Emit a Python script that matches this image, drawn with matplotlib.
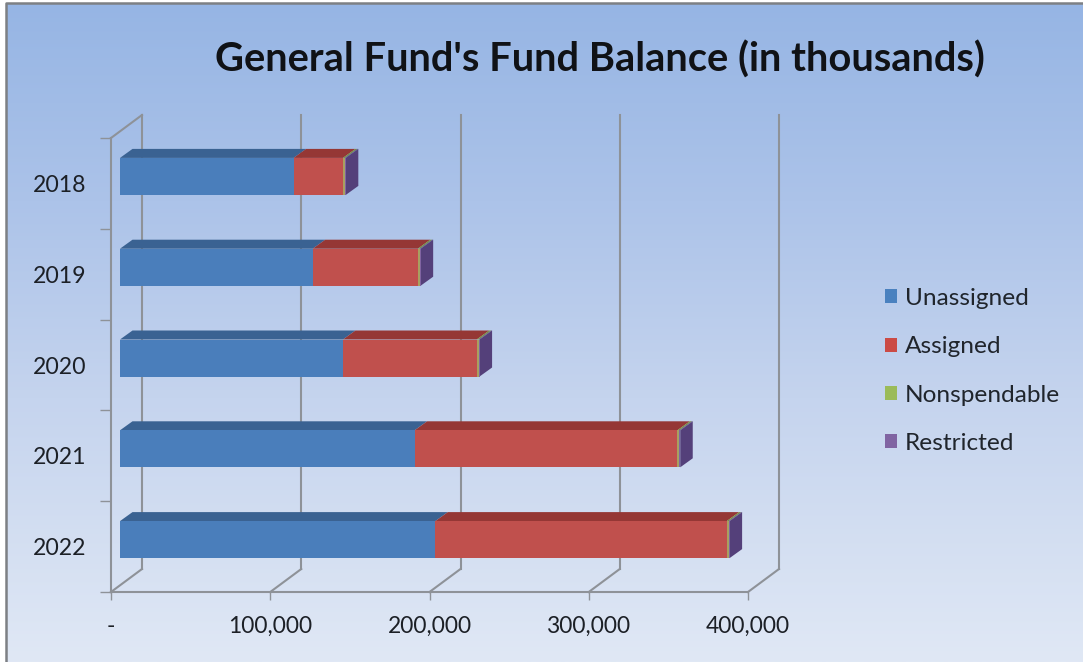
import numpy as np
import matplotlib
matplotlib.use("Agg")
import matplotlib.pyplot as plt
from matplotlib.patches import Polygon, Patch

years = ["2018", "2019", "2020", "2021", "2022"]
unassigned = [109, 121, 140, 185, 198]
assigned = [31, 66, 84, 165, 183]
nonspendable = [1.2, 1.2, 1.2, 1.2, 1.2]
restricted = [0.6, 0.6, 0.6, 0.6, 0.6]
series_names = ["Unassigned", "Assigned", "Nonspendable", "Restricted"]
x_ticks = [0, 100, 200, 300, 400]
x_labels = ["-", "100,000", "200,000", "300,000", "400,000"]

FRONT = ["#4a7ebb", "#c0504d", "#a8a060", "#8064a2"]
TOP = ["#3a6292", "#953735", "#76923c", "#5f497a"]
SIDE = ["#3a6292", "#953735", "#76923c", "#54407a"]
LEGEND = ["#4a81bf", "#cb4b45", "#9bbb59", "#8064a2"]
GRID = "#8e9298"
TEXT = "#1c2026"
plt.rcParams["font.family"] = ["Lato", "DejaVu Sans"]

W, H = 1083, 662
fig = plt.figure(figsize=(W / 100, H / 100), dpi=100, facecolor="white")

# background gradient
bg = fig.add_axes([0, 0, 1, 1], zorder=0)
bg.set_axis_off()
stops_y = np.array([0, 0.3, 0.6, 1.0])
stops_c = np.array([[150, 181, 228], [172, 195, 233], [197, 212, 238], [224, 232, 245]]) / 255
t = np.linspace(0, 1, 256)
grad = np.stack([np.interp(t, stops_y, stops_c[:, i]) for i in range(3)], axis=1)[:, None, :]
bg.imshow(grad, aspect="auto", extent=(6 / W, 1, 0, 1 - 3 / H), origin="upper")
bg.plot([6 / W, 6 / W, 1], [0, 1 - 3 / H, 1 - 3 / H], color="#7d8084", lw=1.8, clip_on=False)
bg.set_xlim(0, 1); bg.set_ylim(0, 1)

# front plane of the pseudo-3D plot
L, R, T, B = 111, 748, 138, 592
ax = fig.add_axes([L / W, 1 - B / H, (R - L) / W, (B - T) / H], zorder=1)
ax.patch.set_alpha(0)
ax.set_xlim(0, 400)
ax.set_ylim(4.5, -0.5)
kx = (R - L) / 400
ky = (B - T) / 5
wall_dx, wall_dy = 31 / kx, 23 / ky
bar_dx, bar_dy = 9 / kx, 7 / ky
dep_dx, dep_dy = 12.5 / kx, 9 / ky
half = 18.5 / ky
ypos = np.arange(len(years))

for s in ["top", "right"]:
    ax.spines[s].set_visible(False)
for s in ["left", "bottom"]:
    ax.spines[s].set_color(GRID)
    ax.spines[s].set_linewidth(1.5)

ymin, ymax = 4.5, -0.5
# back wall and its links to the front axis
for v in x_ticks:
    ax.plot([v + wall_dx, v + wall_dx], [ymin - wall_dy, ymax - wall_dy], color=GRID, lw=1.5, zorder=1, clip_on=False)
    ax.plot([v, v + wall_dx], [ymin, ymin - wall_dy], color=GRID, lw=1.5, zorder=1, clip_on=False)
ax.plot([0, wall_dx], [ymax, ymax - wall_dy], color=GRID, lw=1.5, zorder=1, clip_on=False)

# stacked bars
rows = [unassigned, assigned, nonspendable, restricted]
left = np.zeros(len(years))
for i, (vals, name) in enumerate(zip(rows, series_names)):
    vals = np.array(vals, dtype=float)
    ax.barh(ypos - bar_dy, vals, left=left + bar_dx, height=2 * half, color=FRONT[i], lw=0, zorder=3, clip_on=False)
    for y, l, v in zip(ypos - bar_dy, left + bar_dx, vals):
        ax.add_patch(Polygon([(l, y - half), (l + v, y - half), (l + v + dep_dx, y - half - dep_dy), (l + dep_dx, y - half - dep_dy)],
                             closed=True, fc=TOP[i], lw=0, zorder=2.5, clip_on=False))
    left = left + vals
for y, l in zip(ypos - bar_dy, left + bar_dx):
    ax.add_patch(Polygon([(l, y - half), (l + dep_dx, y - half - dep_dy), (l + dep_dx, y + half - dep_dy), (l, y + half)],
                         closed=True, fc=SIDE[3], lw=0, zorder=2.6, clip_on=False))

ax.set_xticks(x_ticks, x_labels)
ax.set_yticks(ypos, years)
ax.set_yticks(np.arange(-0.5, 5), minor=True)
ax.tick_params(axis="y", which="major", length=0, pad=18, labelsize=16.6, labelcolor=TEXT)
ax.tick_params(axis="y", which="minor", length=8, width=1, color=GRID)
ax.tick_params(axis="x", length=6, width=1, color=GRID, pad=11, labelsize=16.4, labelcolor=TEXT)

fig.text(600 / W, 1 - 60 / H, "General Fund's Fund Balance (in thousands)", ha="center", va="center",
         fontsize=28.7, fontweight="bold", color="#101216", zorder=5)

handles = [Patch(facecolor=c, edgecolor="none") for c in LEGEND]
fig.legend(handles, series_names, loc="center left", bbox_to_anchor=(885 / W, 1 - 371 / H), frameon=False,
           fontsize=17.6, labelcolor="#20252c", handlelength=0.49, handleheight=0.49, handletextpad=0.33,
           labelspacing=1.12, borderpad=0, borderaxespad=0)

fig.savefig("out.png", dpi=100)
